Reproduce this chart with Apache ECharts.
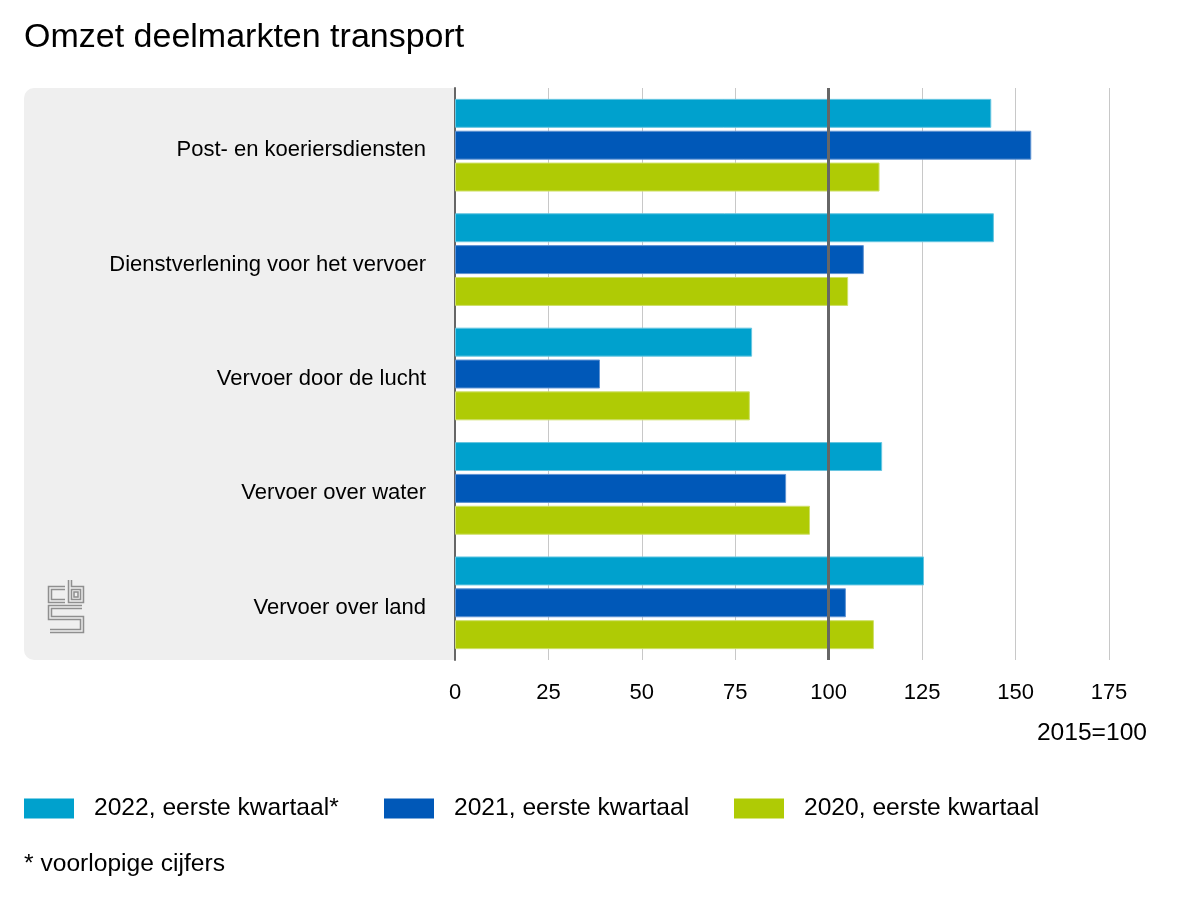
<!DOCTYPE html>
<html><head><meta charset="utf-8">
<script src="https://cdn.jsdelivr.net/npm/echarts@6/dist/echarts.min.js"></script>
<style>html,body{margin:0;padding:0;background:#fff}#c{width:1200px;height:900px}</style>
</head><body><div id="c"></div>
<script>
const categories = ['Post- en koeriersdiensten','Dienstverlening voor het vervoer','Vervoer door de lucht','Vervoer over water','Vervoer over land'];
const seriesNames = ['2022, eerste kwartaal*','2021, eerste kwartaal','2020, eerste kwartaal'];
const v2022 = [143.5, 144.2, 79.5, 114.3, 125.5];
const v2021 = [154.2, 109.4, 38.8, 88.6, 104.6];
const v2020 = [113.6, 105.2, 78.9, 95.0, 112.1];
const colors = ['#00a1cd','#0058b8','#afcb05'];
const borders = ['#66c6e1','#5f93d3','#cfe06a'];
const tickMin = 0, tickMax = 175, tickStep = 25;

const F = 'Liberation Sans, Arial, sans-serif';
const chart = echarts.init(document.getElementById('c'), null, {renderer:'canvas'});
const vals = [v2022, v2021, v2020];
const L = '#8f8f8f', B = '#efefef';
function logoLine(pts, inner){ return {type:'polyline', shape:{points:pts}, style:{stroke:inner?B:L, lineWidth:inner?1.4:4.5, fill:null, lineJoin:'miter'}, z:2+(inner?1:0), silent:true}; }
const logoParts = [
  [[65,588],[50,588],[50,601],[65,601]],
  [[70,580],[70,601],[82,601],[82,588],[70,588]],
  [[82,607],[50,607],[50,618],[82,618],[82,631],[50,631]]
];
const logo = [];
logoParts.forEach(p=>{logo.push(logoLine(p,false));});
logoParts.forEach(p=>{logo.push(logoLine(p,true));});
logo.push({type:'rect', shape:{x:74,y:592,width:4,height:5}, style:{stroke:L,lineWidth:1.5,fill:B}, z:4, silent:true});

chart.setOption({
  animation:false,
  textStyle:{fontFamily:F},
  title:{text:'Omzet deelmarkten transport', left:24, top:21, padding:0, textStyle:{fontFamily:F, fontSize:34, fontWeight:'normal', color:'#000'}},
  legend: seriesNames.map((n,i)=>({
    data:[n], left:[24,384,734][i], top:796, padding:0, itemWidth:50, itemHeight:20, icon:'rect',
    itemStyle:{borderWidth:0},
    textStyle:{fontFamily:F, fontSize:24.6, color:'#000', padding:[0,0,0,15]}, selectedMode:false
  })),
  graphic:[
    {type:'rect', shape:{x:24,y:88,width:431,height:572,r:[10,0,0,10]}, style:{fill:'#efefef'}, z:-10, silent:true},
    {type:'text', x:1147, y:733, style:{text:'2015=100', fontFamily:F, fontSize:24.6, fill:'#000', textAlign:'right', textVerticalAlign:'middle'}},
    {type:'text', x:24, y:864, style:{text:'* voorlopige cijfers', fontFamily:F, fontSize:24.6, fill:'#000', textAlign:'left', textVerticalAlign:'middle'}},
    ...logo
  ],
  grid:{left:455, right:91, top:88, bottom:240, containLabel:false},
  xAxis:{type:'value', min:tickMin, max:tickMax, interval:tickStep,
    axisLine:{show:false}, axisTick:{show:false},
    axisLabel:{fontFamily:F, fontSize:22, color:'#000', margin:22},
    splitLine:{lineStyle:{color:'#c8c8c8', width:1}}},
  yAxis:{type:'category', data:categories, inverse:true,
    axisLine:{lineStyle:{color:'#666', width:2}}, axisTick:{show:false},
    axisLabel:{margin:29, formatter: v => '{a|' + v + '}',
      rich:{a:{fontFamily:F, fontSize:22, color:'#000', padding:[10,0,0,0]}}}},
  series: seriesNames.map((n,i)=>({
    name:n, type:'bar', data:vals[i], barGap:'10%', barCategoryGap:'19%',
    itemStyle:{color:colors[i], borderColor:borders[i], borderWidth:1},
    markLine: i===0 ? {silent:true, symbol:'none', label:{show:false}, data:[{xAxis:100}], lineStyle:{color:'#666', width:3, type:'solid'}, z:10} : undefined
  }))
});
</script></body></html>
